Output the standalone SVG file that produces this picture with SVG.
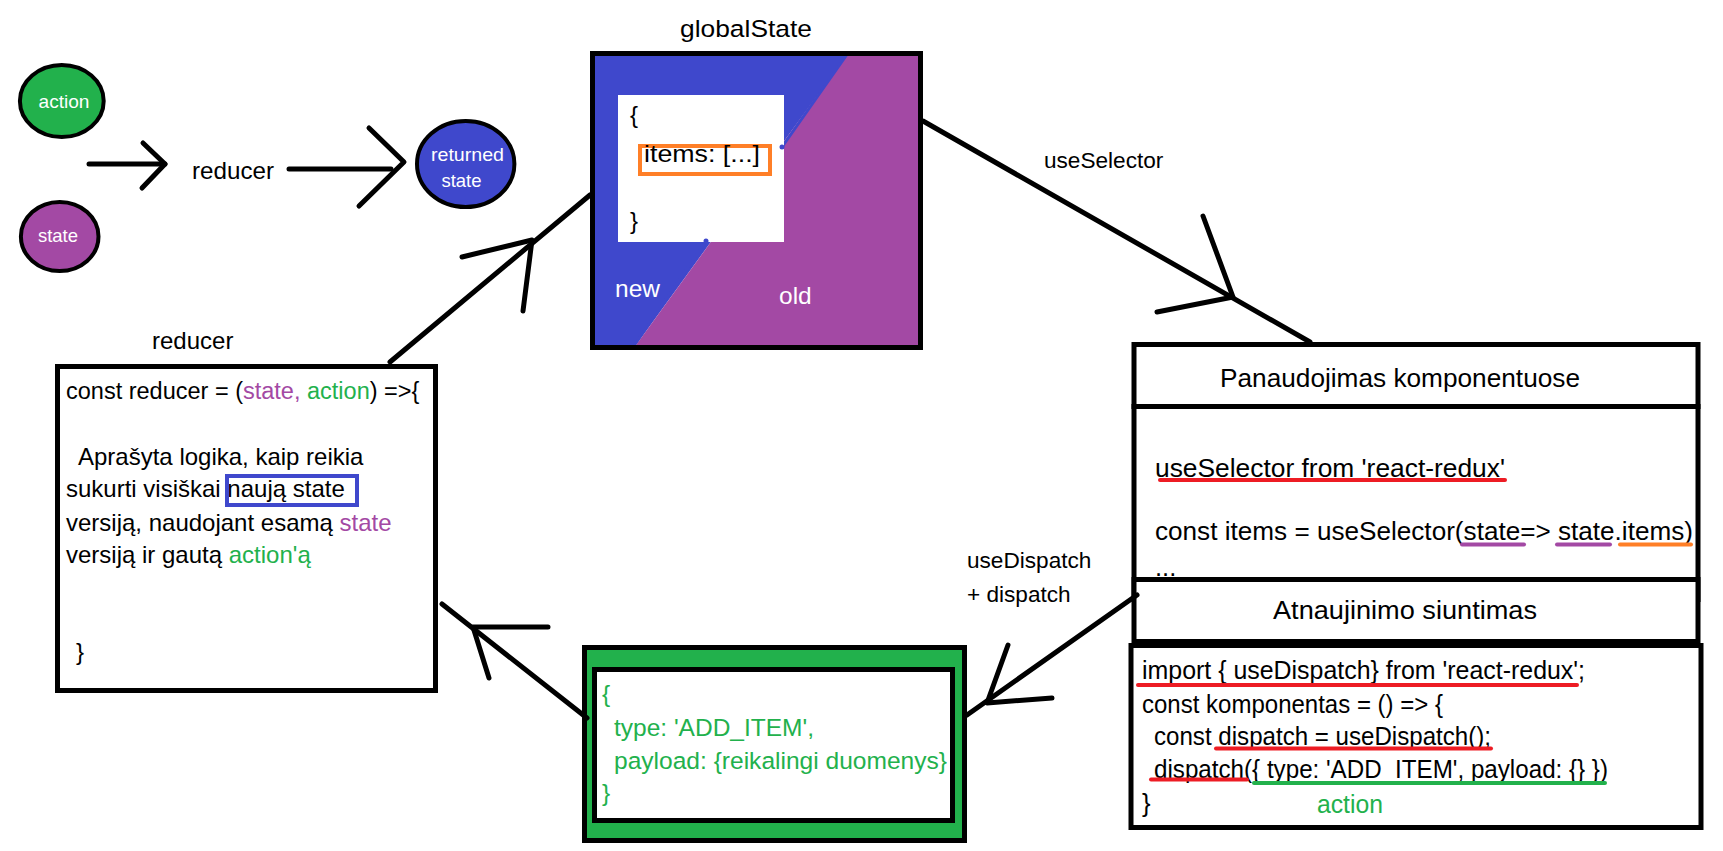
<svg xmlns="http://www.w3.org/2000/svg" width="1723" height="851" viewBox="0 0 1723 851">
<style>
text{font-family:"Liberation Sans",Arial,sans-serif;fill:#000}
.t22{font-size:22px}
.t23{font-size:22.6px}
.t24{font-size:24px}
.t25{font-size:24.5px}
.t26{font-size:25.5px}
.c{font-size:18.5px;fill:#fff;text-anchor:middle}
.w{fill:#fff}
.p{fill:#A349A4}
.g{fill:#22B14C}
.box{fill:#fff;stroke:#000;stroke-width:5}
.con{fill:none;stroke:#000;stroke-width:5;stroke-linecap:round;stroke-linejoin:round}
.ul{stroke-width:4;stroke-linecap:round;fill:none}
</style>
<rect width="1723" height="851" fill="#fff"/>

<g id="action-circle">
<ellipse cx="61.8" cy="101" rx="41.9" ry="36" fill="#22B14C" stroke="#000" stroke-width="4"/>
<text class="c" x="64" y="108" textLength="51" lengthAdjust="spacingAndGlyphs">action</text>
</g>
<g id="state-circle">
<ellipse cx="59.7" cy="236.5" rx="38.8" ry="34.5" fill="#A349A4" stroke="#000" stroke-width="4"/>
<text class="c" x="58" y="242">state</text>
</g>
<g id="returned-state">
<ellipse cx="465.7" cy="164" rx="48.7" ry="43" fill="#3F48CC" stroke="#000" stroke-width="4"/>
<text class="c" x="467.5" y="161" textLength="73" lengthAdjust="spacingAndGlyphs">returned</text>
<text class="c" x="461.5" y="187">state</text>
</g>
<g id="reducer-label">
<text class="t24" x="192" y="179" textLength="82" lengthAdjust="spacingAndGlyphs">reducer</text>
</g>

<g id="globalState">
<text class="t25" x="680" y="37" textLength="132" lengthAdjust="spacingAndGlyphs">globalState</text>
<polygon points="595,56 846,56 636,345 595,345" fill="#3F48CC"/>
<polygon points="846,56 918,56 918,345 636,345" fill="#A349A4"/>
<line x1="848" y1="53" x2="782" y2="147" stroke="#3F48CC" stroke-width="3" stroke-linecap="round"/>
<line x1="706" y1="241" x2="633" y2="347" stroke="#3F48CC" stroke-width="3" stroke-linecap="round"/>
<rect x="592.5" y="53.5" width="328" height="294" fill="none" stroke="#000" stroke-width="5"/>
<rect x="618" y="95" width="166" height="147" fill="#fff"/>
<circle cx="782" cy="147" r="2.5" fill="#3F48CC"/>
<circle cx="706" cy="241" r="2.5" fill="#3F48CC"/>
<rect x="640" y="146" width="130" height="28" fill="none" stroke="#FF7F27" stroke-width="4"/>
<text class="t24" x="630" y="123">{</text>
<text class="t24" x="644" y="162" textLength="116" lengthAdjust="spacingAndGlyphs">items: [...]</text>
<text class="t24" x="630" y="229">}</text>
<text class="t25 w" x="615" y="297">new</text>
<text class="t25 w" x="779" y="304">old</text>
</g>

<g id="reducer-box">
<text class="t24" x="152" y="349">reducer</text>
<rect class="box" x="57.5" y="366.5" width="378" height="324"/>
<text x="66" y="399" style="font-size:23.5px">const reducer = (<tspan class="p">state,</tspan><tspan class="g"> action</tspan>) =&gt;{</text>
<text class="t24" x="78" y="465">Aprašyta logika, kaip reikia</text>
<text class="t24" x="66" y="497">sukurti visiškai naują state</text>
<rect x="227" y="476" width="130" height="29" fill="none" stroke="#3F48CC" stroke-width="4"/>
<text class="t24" x="66" y="531">versiją, naudojant esamą <tspan class="p">state</tspan></text>
<text class="t24" x="66" y="563">versiją ir gautą <tspan class="g">action'ą</tspan></text>
<text class="t24" x="76" y="660">}</text>
</g>

<g id="action-object">
<rect x="584.5" y="647.5" width="380" height="193" fill="#22B14C" stroke="#000" stroke-width="5"/>
<rect class="box" x="594.5" y="669.5" width="358" height="151"/>
<text class="t25 g" x="602" y="702">{</text>
<text class="t25 g" x="614" y="736">type: 'ADD_ITEM',</text>
<text class="t25 g" x="614" y="769" textLength="333" lengthAdjust="spacingAndGlyphs">payload: {reikalingi duomenys}</text>
<text class="t25 g" x="602" y="801">}</text>
</g>

<g id="panaudojimas">
<rect class="box" x="1134" y="344.5" width="564" height="255"/>
<line x1="1131.5" y1="406.5" x2="1700.5" y2="406.5" stroke="#000" stroke-width="5"/>
<text class="t26" x="1220" y="387" textLength="360" lengthAdjust="spacingAndGlyphs">Panaudojimas komponentuose</text>
<text class="t26" x="1155" y="477" textLength="350" lengthAdjust="spacingAndGlyphs">useSelector from 'react-redux'</text>
<line class="ul" x1="1160" y1="480" x2="1505" y2="480" stroke="#ED1C24"/>
<text class="t26" x="1155" y="540" textLength="538" lengthAdjust="spacingAndGlyphs">const items = useSelector(state=&gt; state.items)</text>
<line class="ul" x1="1462" y1="544.5" x2="1524" y2="544.5" stroke="#A349A4"/>
<line class="ul" x1="1557" y1="544.5" x2="1610" y2="544.5" stroke="#A349A4"/>
<line class="ul" x1="1620" y1="544.5" x2="1691" y2="544.5" stroke="#FF7F27"/>
<text class="t26" x="1155" y="576">...</text>
</g>

<g id="atnaujinimo">
<rect class="box" x="1134" y="579.5" width="564" height="62"/>
<rect class="box" x="1131" y="645.5" width="570" height="182"/>
<text class="t26" x="1273" y="619" textLength="264" lengthAdjust="spacingAndGlyphs">Atnaujinimo siuntimas</text>
<text class="t26" x="1142" y="679" textLength="443" lengthAdjust="spacingAndGlyphs">import { useDispatch} from 'react-redux';</text>
<line class="ul" x1="1138" y1="685" x2="1577" y2="685" stroke="#ED1C24"/>
<text class="t26" x="1142" y="713" textLength="301" lengthAdjust="spacingAndGlyphs">const komponentas = () =&gt; {</text>
<text class="t26" x="1154" y="745" textLength="337" lengthAdjust="spacingAndGlyphs">const dispatch = useDispatch();</text>
<line class="ul" x1="1216" y1="748.5" x2="1491" y2="748.5" stroke="#ED1C24"/>
<text class="t26" x="1154" y="778" textLength="454" lengthAdjust="spacingAndGlyphs">dispatch({ type: 'ADD_ITEM', payload: {} })</text>
<line class="ul" x1="1151" y1="779.5" x2="1247" y2="779.5" stroke="#ED1C24"/>
<line class="ul" x1="1254" y1="783" x2="1605" y2="783" stroke="#22B14C"/>
<text class="t26" x="1142" y="812">}</text>
<text class="t26 g" x="1317" y="813" textLength="66" lengthAdjust="spacingAndGlyphs">action</text>
</g>

<g id="connectors">
<line class="con" x1="89" y1="164" x2="165" y2="164"/>
<polyline class="con" points="143,143 165,164 142,188"/>
<line class="con" x1="289" y1="169" x2="391" y2="169"/>
<polyline class="con" points="369,128 404,162 359,206"/>
<line class="con" x1="390" y1="362" x2="590" y2="195"/>
<polyline class="con" points="462,257 532,240 523,311"/>
<line class="con" x1="923" y1="121" x2="1310" y2="342"/>
<polyline class="con" points="1203,216 1233,297 1157,312"/>
<line class="con" x1="1137" y1="595" x2="967" y2="715"/>
<polyline class="con" points="1008,645 987,703 1052,698"/>
<line class="con" x1="587" y1="718" x2="442" y2="604"/>
<polyline class="con" points="548,627 473,627 489,678"/>
</g>

<g id="labels">
<text class="t23" x="1044" y="168">useSelector</text>
<text class="t23" x="967" y="568">useDispatch</text>
<text class="t23" x="967" y="602">+ dispatch</text>
</g>
</svg>
